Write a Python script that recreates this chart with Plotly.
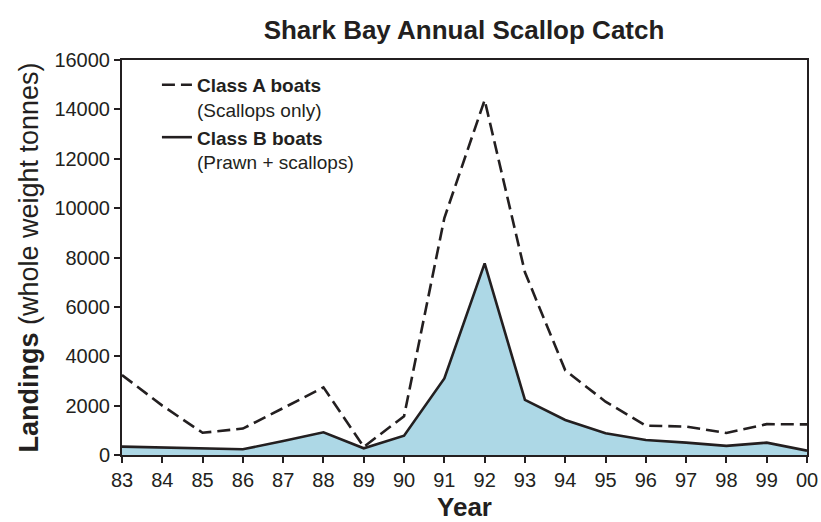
import plotly.graph_objects as go

years = list(range(83, 101))
year_labels = ["83", "84", "85", "86", "87", "88", "89", "90", "91", "92",
               "93", "94", "95", "96", "97", "98", "99", "00"]
class_a = [3240, 2000, 900, 1070, 1900, 2740, 330, 1570, 9600, 14380,
           7400, 3430, 2160, 1190, 1150, 890, 1250, 1240]
class_b = [340, 300, 260, 230, 570, 920, 270, 780, 3100, 7760,
           2230, 1420, 880, 610, 500, 370, 500, 175]
y_ticks = [0, 2000, 4000, 6000, 8000, 10000, 12000, 14000, 16000]
y_tick_labels = [str(v) for v in y_ticks]

ink = "#231f20"
font_family = "Liberation Sans, Arial, sans-serif"

fig = go.Figure()
# shaded area under Class B (no legend entry, so legend shows a plain line)
fig.add_trace(go.Scatter(
    x=years, y=class_b, mode="lines", fill="tozeroy",
    fillcolor="#add8e6", line=dict(width=0), showlegend=False, hoverinfo="skip",
))
fig.add_trace(go.Scatter(
    x=years, y=class_a, mode="lines",
    name="<b>Class A boats</b><br>(Scallops only)",
    line=dict(color=ink, width=2.6, dash="13px,6px"),
))
fig.add_trace(go.Scatter(
    x=years, y=class_b, mode="lines",
    name="<b>Class B boats</b><br>(Prawn + scallops)",
    line=dict(color=ink, width=2.6),
))

W, H = 821, 522
fig.update_layout(
    width=W, height=H,
    margin=dict(l=122, r=14, t=60, b=67),
    paper_bgcolor="white", plot_bgcolor="white",
    font=dict(family=font_family, color=ink, size=20),
    title=dict(text="<b>Shark Bay Annual Scallop Catch</b>",
               x=464 / W, xanchor="center", y=1 - 30 / H, yanchor="middle",
               font=dict(size=26, color=ink)),
    showlegend=True,
    legend=dict(x=0.051, y=0.985, xanchor="left", yanchor="top",
                bgcolor="rgba(0,0,0,0)", font=dict(size=19, color=ink),
                valign="top", tracegroupgap=1, traceorder="normal"),
    xaxis=dict(
        range=[83, 100], tickmode="array", tickvals=years, ticktext=year_labels,
        showgrid=False, zeroline=False, showline=True, linecolor=ink, linewidth=2,
        mirror=True, ticks="outside", ticklen=6, tickwidth=1.5, tickcolor=ink,
        tickfont=dict(size=20, color=ink), ticklabeloverflow="allow",
        automargin=False,
        title=dict(text="<b>Year</b>", font=dict(size=26, color=ink), standoff=22),
    ),
    yaxis=dict(
        range=[0, 16000], tickmode="array", tickvals=y_ticks, ticktext=y_tick_labels,
        showgrid=False, zeroline=False, showline=True, linecolor=ink, linewidth=2,
        mirror=True, ticks="outside", ticklen=6, tickwidth=1.5, tickcolor=ink,
        tickfont=dict(size=20, color=ink), automargin=False,
        title=dict(text="<b>Landings</b> (whole weight tonnes)",
                   font=dict(size=27, color=ink), standoff=8),
    ),
)

fig.write_html(
    "out.html",
    config={"displayModeBar": False},
    post_script="document.body.style.margin='0';document.body.style.overflow='hidden';",
)
